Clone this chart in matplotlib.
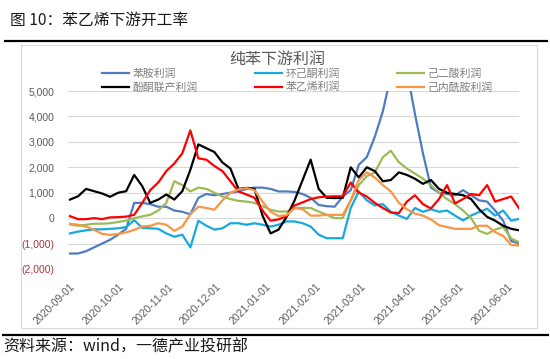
import matplotlib
matplotlib.use("Agg")
import matplotlib.pyplot as plt
from matplotlib.lines import Line2D
from matplotlib.patches import Rectangle
from matplotlib.ticker import FuncFormatter
import pandas as pd

# five-day samples, 2020-09-01 .. 2021-06-08
dates = pd.date_range("2020-09-01", periods=57, freq="5D")

aniline = [-1390, -1390, -1300, -1150, -1000, -850, -650, -420, 600, 600,
           550, 450, 450, 300, 250, 150, 800, 950, 900, 950,
           1000, 1050, 1150, 1200, 1200, 1150, 1050, 1050, 1030, 950,
           800, 520, 470, 450, 850, 1100, 2100, 2400, 3200, 4200,
           5600, 6000, 5800, 4100, 2550, 1200, 1000, 950, 900, 1100,
           900, 700, 650, 300, -100, -900, -1000]
cyclohexanone = [-600, -530, -480, -440, -440, -420, -400, -350, -80, -380,
                 -400, -420, -600, -730, -650, -1150, -100, -300, -450, -400,
                 -200, -200, -260, -200, -260, -330, -260, -130, -130, -200,
                 -330, -650, -790, -790, -790, 400, 1050, 700, 500, 550,
                 250, 100, -30, 400, 250, 350, 250, 300, 100, -90,
                 100, 240, 370, 100, 300, -100, -30]
adipic = [-250, -300, -260, -220, -220, -200, -150, -100, 0, 70,
          130, 300, 600, 1450, 1300, 1050, 1200, 1150, 1000, 850,
          750, 680, 650, 600, 470, 330, 260, 260, 400, 400,
          400, 260, 130, 0, 0, 700, 1300, 1650, 1800, 2400,
          2650, 2200, 1950, 1750, 1550, 1300, 1000, 750, 550, 300,
          0, -500, -620, -450, -350, -800, -950]
phenol_acetone = [730, 860, 1150, 1060, 970, 840, 1000, 1060, 1700, 1260,
                  600, 730, 930, 730, 1060, 1900, 2900, 2750, 2600, 2190,
                  1950, 1150, 1190, 1150, 100, -600, -450, 50, 700, 1500,
                  2300, 1150, 800, 790, 800, 2000, 1600, 2000, 1850, 1450,
                  1500, 1800, 1700, 1550, 1350, 1500, 1150, 1000, 950, 900,
                  750, 350, 50, -100, -300, -420, -480]
styrene = [80, -40, -40, 0, -40, 30, 40, 60, 130, 600,
           1100, 1400, 1850, 2150, 2550, 3450, 2350, 2300, 2050, 1850,
           1450, 1050, 930, 800, 300, -100, -50, 80, 500, 620,
           750, 820, 850, 860, 860, 1400, 1000, 850, 600, 400,
           220, 200, 650, 900, 550, 380, 750, 1300, 580, 750,
           950, 900, 1300, 650, 750, 850, 380]
caprolactam = [-220, -260, -330, -460, -620, -660, -620, -560, -460, -330,
               -300, -200, -260, -500, -330, 150, 450, 400, 330, 700,
               1000, 1130, 1180, 1100, 650, 250, 80, 120, 400, 350,
               100, 100, 130, 130, 130, 700, 1500, 1800, 1600, 1300,
               1050, 600, 350, 180, 100, -50, -280, -350, -420, -420,
               -420, -300, -300, -550, -700, -1050, -1080]

names = ["苯胺利润", "环己酮利润", "己二酸利润", "酚酮联产利润", "苯乙烯利润", "己内酰胺利润"]
colors = ["#4F7CC0", "#16A9E1", "#9BBB59", "#000000", "#FF0000", "#F79646"]
series = [aniline, cyclohexanone, adipic, phenol_acetone, styrene, caprolactam]

cjk = ["Noto Sans CJK SC", "DejaVu Sans"]
plt.rcParams["font.family"] = ["Liberation Sans", "Noto Sans CJK SC"]

fig = plt.figure(figsize=(5.5, 3.59), dpi=100)
ax = fig.add_axes([0.1244, 0.2507, 0.8196, 0.4958])

for vals, c, n in zip(series, colors, names):
    ax.plot(dates, vals, color=c, lw=1.6, label=n)

ax.set_ylim(-2000, 5000)
ax.set_yticks(range(-2000, 5001, 1000))
ax.set_xlim(pd.Timestamp("2020-08-31"), pd.Timestamp("2021-06-08"))
ticks = pd.date_range("2020-09-01", "2021-06-01", freq="MS")
ax.set_xticks(ticks)
ax.set_xticklabels([d.strftime("%Y-%m-%d") for d in ticks], rotation=45,
                   ha="right", rotation_mode="anchor", fontsize=7.5, color="#595959")
ax.yaxis.set_major_formatter(FuncFormatter(
    lambda v, p: f"({abs(v):,.0f})" if v < 0 else f"{v:,.0f}"))
for lab, v in zip(ax.get_yticklabels(), ax.get_yticks()):
    lab.set_color("#A8383C" if v < 0 else "#595959")
    lab.set_fontsize(7.5)
ax.tick_params(axis="both", length=0)
ax.tick_params(axis="x", pad=9)
ax.tick_params(axis="y", pad=10)
ax.grid(axis="y", color="#D9D9D9", lw=0.8)
ax.set_axisbelow(True)
for s in ax.spines.values():
    s.set_visible(False)

# legend row-major like the excel one
h, l = ax.get_legend_handles_labels()
order = [0, 3, 1, 4, 2, 5]
leg = fig.legend([h[i] for i in order], [l[i] for i in order], ncol=3,
                 loc="upper left", bbox_to_anchor=(102 / 550, 1 - 68 / 359),
                 frameon=False, borderpad=0, borderaxespad=0, handlelength=2.5,
                 handletextpad=0.3, columnspacing=5.3, labelspacing=0.3,
                 prop={"family": cjk, "size": 7.8})
for t in leg.get_texts():
    t.set_color("#7F7F7F")

fig.text(0.505, 1 - 59 / 359, "纯苯下游利润", ha="center", va="center",
         fontsize=11.5, color="#595959", family=cjk)

# outer frame and report decorations
fig.patches.append(Rectangle((21 / 550, 1 - 328 / 359), 516 / 550, 283 / 359,
                             transform=fig.transFigure, fill=False,
                             edgecolor="#D9D9D9", lw=0.8))
fig.add_artist(Line2D([5 / 550, 547 / 550], [1 - 41 / 359] * 2, color="black", lw=1.6))
fig.add_artist(Line2D([3 / 550, 548 / 550], [1 - 335 / 359] * 2, color="black", lw=1.6))
fig.text(10 / 550, 1 - 20 / 359, "图 10：苯乙烯下游开工率", ha="left", va="center",
         fontsize=11.3, color="#1A1A1A", family=cjk, fontweight="medium")
fig.text(3 / 550, 1 - 347 / 359, "资料来源：wind，一德产业投研部", ha="left", va="center",
         fontsize=11.5, color="#1A1A1A", family=cjk)

plt.savefig("out.png", dpi=100)
